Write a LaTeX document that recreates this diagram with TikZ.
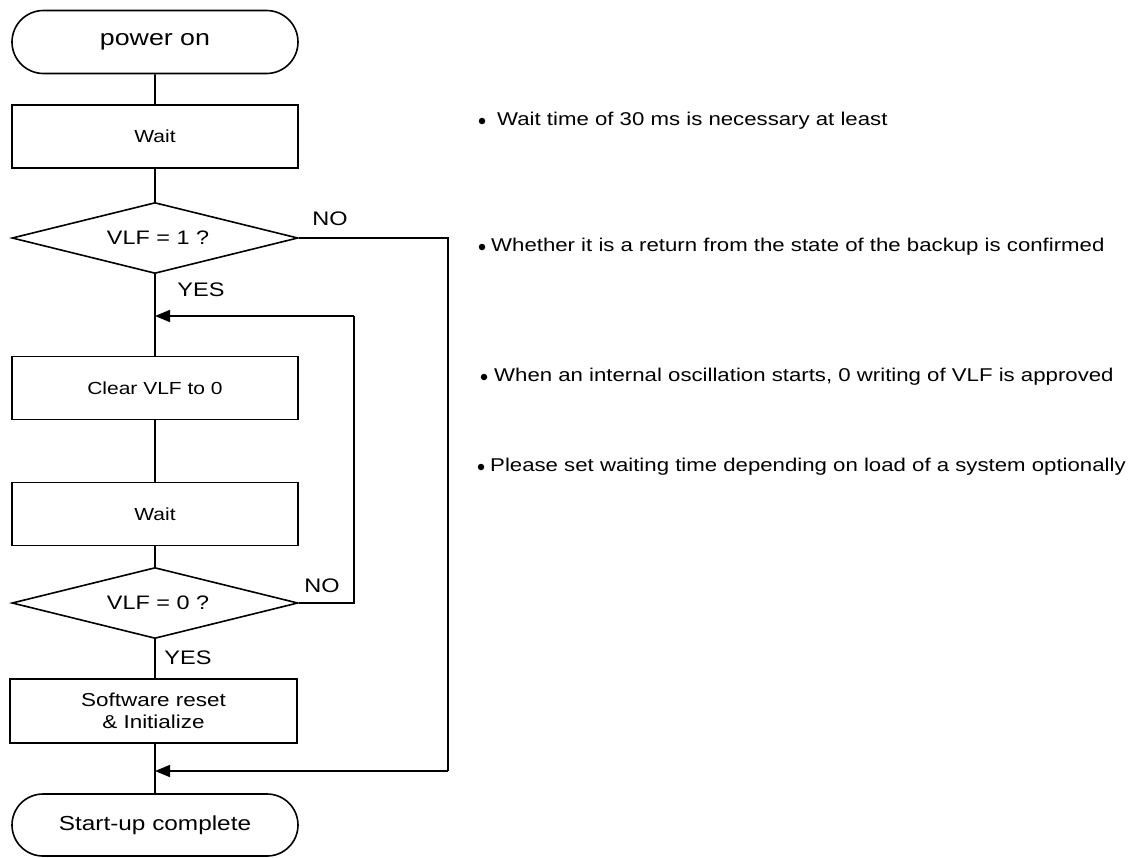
\documentclass[tikz,border=0pt]{standalone}
\usepackage{fontspec}
\usepackage{graphicx}
\setmainfont{Liberation Sans}
\usetikzlibrary{shapes.geometric,shapes.misc,arrows.meta}
\newcommand\sx[1]{\scalebox{1.2}[1]{#1}}
\newcommand\fs[1]{\fontsize{#1}{22}\selectfont}
\begin{document}
\begin{tikzpicture}[x=1pt,y=-1pt,
  line/.style={line width=1.6pt},
  term/.style={rounded rectangle, draw, line width=1.6pt, minimum width=286pt, minimum height=63pt, inner sep=0pt},
  proc/.style={rectangle, draw, line width=1.6pt, minimum width=286pt, minimum height=63pt, inner sep=0pt, align=center, font=\fs{17.5}},
  dec/.style={diamond, draw, line width=1.6pt, minimum width=286pt, minimum height=71pt, inner sep=0pt, aspect=4},
  lbl/.style={inner sep=0pt, font=\fs{19.6}},
  note/.style={anchor=west, inner sep=0pt, font=\fs{18.5}},
  dot/.style={circle, fill, inner sep=0pt, minimum size=6.5pt},
  arr/.style={line width=1.6pt, -{Triangle[length=15pt,width=12pt]}}
]
\useasboundingbox (0,0) rectangle (1143,857);
\node[term, font=\fs{22.3}] (pon) at (155,42) {\sx{power on}};
\node[proc] (w1) at (155,136.5) {\sx{Wait}};
\node[dec, font=\fs{19.5}] (d1) at (155,238) {\hspace{6pt}\sx{VLF = 1 ?}};
\node[proc] (clr) at (155,388) {\sx{Clear VLF to 0}};
\node[proc] (w2) at (155,514) {\sx{Wait}};
\node[dec, font=\fs{19.5}] (d2) at (155,603) {\hspace{6pt}\sx{VLF = 0 ?}};
\node[proc, minimum width=287pt, minimum height=64pt, font=\fs{18.7}] (sw) at (153.5,711) {\sx{Software reset}\\ \sx{\& Initialize}};
\node[term, minimum height=62pt, font=\fs{20.3}] (suc) at (155,825) {\sx{Start-up complete}};
\coordinate (j1) at (155,316);
\coordinate (j2) at (155,771);
\coordinate (r1) at (448,238);
\coordinate (r2) at (448,771);
\coordinate (q1) at (354,603);
\coordinate (q2) at (354,316);
\draw[line] (pon) -- (w1);
\draw[line] (w1) -- (d1);
\draw[line] (d1) -- (clr);
\draw[line] (clr) -- (w2);
\draw[line] (w2) -- (d2);
\draw[line] (d2.south) -- (d2.south |- sw.north);
\draw[line] (sw.south -| suc.north) -- (suc.north);
\draw[line] (d1.east) -- (r1) -- (r2);
\draw[arr] (r2) -- (j2);
\draw[line] (d2.east) -- (q1) -- (q2);
\draw[arr] (q2) -- (j1);
\node[lbl] (no1) at (330,219) {\sx{NO}};
\node[lbl] (yes1) at (201,290) {\sx{YES}};
\node[lbl] (no2) at (322,586) {\sx{NO}};
\node[lbl] (yes2) at (188,658) {\sx{YES}};
\node[dot] (b1) at (482,121) {};
\node[note] (t1) at (497,121) {\sx{Wait time of 30 ms is necessary at least}};
\node[dot] (b2) at (482,247) {};
\node[note] (t2) at (491,247) {\sx{Whether it is a return from the state of the backup is confirmed}};
\node[dot] (b3) at (484,377) {};
\node[note] (t3) at (494,377) {\sx{When an internal oscillation starts, 0 writing of VLF is approved}};
\node[dot] (b4) at (481,467) {};
\node[note] (t4) at (490,467) {\sx{Please set waiting time depending on load of a system optionally}};
\end{tikzpicture}
\end{document}
